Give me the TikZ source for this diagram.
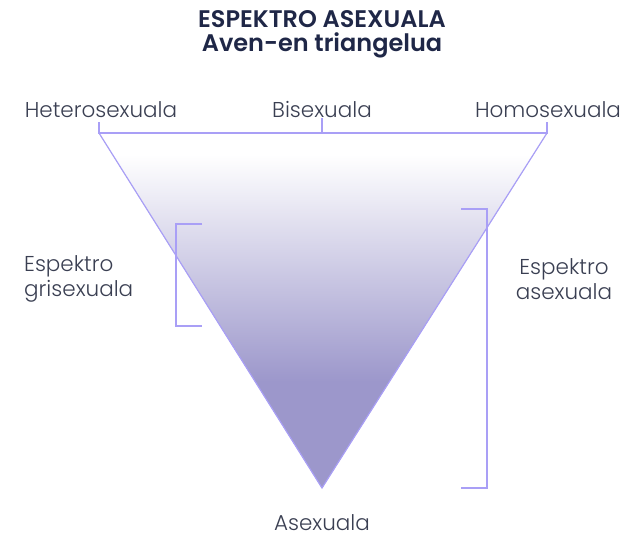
\documentclass[tikz,border=0pt]{standalone}
\usepackage{fontspec}
\setmainfont{Poppins}[UprightFont=* Light, BoldFont=* SemiBold]
\usepackage{tikz}
\usetikzlibrary{positioning}

\definecolor{titlenavy}{HTML}{1F2747}
\definecolor{labelgrey}{HTML}{3A3F52}
\definecolor{edgeviolet}{HTML}{A99FF6}
\definecolor{fillviolet}{HTML}{9C97CB}
\pgfdeclareverticalshading{aceshade}{100bp}{color(0bp)=(fillviolet); color(40bp)=(fillviolet); color(72bp)=(white); color(100bp)=(white)}

\begin{document}
\begin{tikzpicture}[x=1pt, y=-1pt,
  lbl/.style={text=labelgrey, font=\fontsize{21.5}{25.5}\selectfont, inner sep=0pt},
  brk/.style={draw=edgeviolet, line width=1.4pt}]
\useasboundingbox (0,0) rectangle (625,538);

% Title
\node[text=titlenavy, font=\fontsize{24}{24}\selectfont\bfseries, align=center] (T) at (322,34) {ESPEKTRO ASEXUALA\\Aven-en triangelua};

% Corners
\coordinate (L) at (99,133);
\coordinate (R) at (547,133);
\coordinate (B) at (322,488);
\coordinate (M) at (322,133);

% Triangle
\fill[shading=aceshade] (L) -- (R) -- (B) -- cycle;
\draw[edgeviolet, line width=1.2pt] (L) -- (B) -- (R);

% Labels
\node[lbl] (het) at (101,110) {Heterosexuala};
\node[lbl] (bi) at (322,110) {Bisexuala};
\node[lbl] (homo) at (548,110) {Homosexuala};
\node[lbl] (ase) at (322,523) {Asexuala};
\node[lbl, align=left, anchor=west] (gris) at (24,279) {Espektro\\grisexuala};
\node[lbl, align=center] (aspec) at (564,279) {Espektro\\asexuala};

% Brackets
\draw[brk] (99,122) -- (L) -- (R) -- (547,122);
\draw[brk] (M) -- (bi.south);
\draw[brk] (202,224) -- (176,224) -- (176,326) -- (202,326);
\draw[brk] (461,209) -- (487,209) -- (487,488) -- (461,488);

\end{tikzpicture}
\end{document}
